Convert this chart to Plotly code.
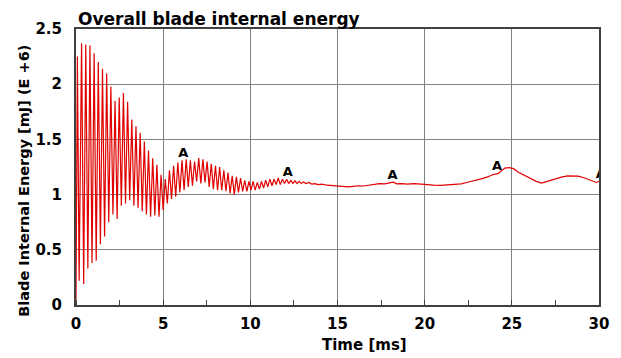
import plotly.graph_objects as go

# Time [ms] and blade internal energy [mJ] (E+6)
t_ms = [0.00, 0.08, 0.18, 0.32, 0.44, 0.56, 0.68, 0.80, 0.92, 1.04, 1.16, 1.28, 1.40, 1.52, 1.64,
        1.76, 1.88, 2.00, 2.12, 2.24, 2.36, 2.48, 2.60, 2.72, 2.84, 2.96, 3.08, 3.20, 3.32, 3.44,
        3.56, 3.68, 3.80, 3.92, 4.04, 4.16, 4.28, 4.40, 4.52, 4.64, 4.76, 4.88, 5.00, 5.12, 5.24,
        5.36, 5.48, 5.60, 5.72, 5.84, 5.96, 6.08, 6.20, 6.32, 6.44, 6.56, 6.68, 6.80, 6.92, 7.04,
        7.16, 7.28, 7.40, 7.52, 7.64, 7.76, 7.88, 8.00, 8.12, 8.24, 8.36, 8.48, 8.60, 8.72, 8.84,
        8.96, 9.08, 9.20, 9.32, 9.44, 9.56, 9.68, 9.80, 9.92, 10.04, 10.16, 10.28, 10.40, 10.52,
        10.64, 10.76, 10.88, 11.00, 11.12, 11.24, 11.36, 11.48, 11.60, 11.72, 11.84, 11.96, 12.08,
        12.20, 12.32, 12.44, 12.56, 12.68, 12.80, 12.92, 13.04, 13.20, 13.36, 13.52, 13.70, 13.90,
        14.10, 14.40, 14.70, 15.00, 15.30, 15.60, 15.90, 16.20, 16.50, 16.80, 17.10, 17.40, 17.70,
        18.00, 18.20, 18.40, 18.70, 19.00, 19.40, 19.80, 20.10, 20.50, 20.90, 21.30, 21.70, 22.10,
        22.40, 22.70, 23.00, 23.30, 23.60, 23.90, 24.20, 24.40, 24.60, 24.85, 25.10, 25.35, 25.60,
        25.85, 26.10, 26.40, 26.70, 27.00, 27.30, 27.60, 27.90, 28.20, 28.50, 28.80, 29.10, 29.40,
        29.70, 29.85, 30.00]
energy = [0.05, 2.25, 0.22, 2.37, 0.19, 2.36, 0.33, 2.35, 0.38, 2.28, 0.40, 2.20, 0.55, 2.14, 0.62,
          2.10, 0.75, 1.98, 0.82, 1.85, 0.78, 1.88, 0.90, 1.92, 0.92, 1.84, 0.95, 1.68, 0.90, 1.62,
          0.88, 1.56, 0.85, 1.48, 0.82, 1.40, 0.80, 1.33, 0.81, 1.27, 0.80, 1.18, 0.86, 1.14, 0.92,
          1.22, 0.96, 1.26, 0.98, 1.29, 1.02, 1.31, 1.04, 1.32, 1.07, 1.31, 1.08, 1.30, 1.12, 1.33,
          1.10, 1.32, 1.11, 1.30, 1.07, 1.28, 1.05, 1.26, 1.04, 1.25, 1.04, 1.22, 1.03, 1.20, 1.01,
          1.17, 1.00, 1.16, 1.02, 1.15, 1.03, 1.13, 1.03, 1.12, 1.04, 1.12, 1.04, 1.11, 1.05,
          1.12, 1.06, 1.13, 1.07, 1.14, 1.08, 1.14, 1.09, 1.15, 1.09, 1.14, 1.10, 1.14,
          1.10, 1.13, 1.10, 1.125, 1.10, 1.12, 1.10, 1.115, 1.10, 1.11, 1.095, 1.10, 1.09,
          1.095, 1.085, 1.08, 1.075, 1.072, 1.07, 1.075, 1.08, 1.078, 1.085, 1.095, 1.10, 1.098,
          1.105, 1.112, 1.098, 1.10, 1.095, 1.10, 1.095, 1.088, 1.085, 1.083, 1.088, 1.092, 1.097,
          1.11, 1.12, 1.13, 1.145, 1.16, 1.18, 1.19, 1.215, 1.24, 1.245, 1.235, 1.205, 1.185,
          1.16, 1.145, 1.12, 1.105, 1.12, 1.135, 1.15, 1.16, 1.17, 1.172, 1.168, 1.155, 1.135,
          1.115, 1.11, 1.12]

label_t = [6.15, 12.15, 18.15, 24.15, 30.1]
label_e = [1.31, 1.14, 1.11, 1.19, 1.12]
label_text = ["A", "A", "A", "A", "A"]

x_ticks = [0, 5, 10, 15, 20, 25, 30]
y_ticks = [0, 0.5, 1, 1.5, 2, 2.5]

FONT = "DejaVu Sans, sans-serif"

fig = go.Figure()
fig.add_trace(go.Scatter(x=t_ms, y=energy, mode="lines",
                         line=dict(color="#e00000", width=1.2), showlegend=False))
fig.add_trace(go.Scatter(x=label_t, y=label_e, mode="text", text=label_text,
                         textposition="top center",
                         textfont=dict(family=FONT, size=13, color="black", weight="bold"),
                         showlegend=False, cliponaxis=True))

# The page body has an 8 px margin, so the figure is 8 px smaller than the window
fig.update_layout(
    width=613, height=350,
    margin=dict(l=68, r=18, t=14, b=53),
    paper_bgcolor="white", plot_bgcolor="white",
    xaxis=dict(range=[0, 30], tickvals=x_ticks, ticktext=[str(v) for v in x_ticks],
               showgrid=True, gridcolor="#808080", gridwidth=1,
               showline=True, linecolor="#404040", linewidth=2, mirror=True,
               ticks="", zeroline=False, ticklabelstandoff=4,
               minor=dict(ticks="inside", ticklen=5, tickcolor="#404040", dtick=2.5, tick0=0,
                          showgrid=False),
               tickfont=dict(family=FONT, size=15, color="black", weight="bold")),
    yaxis=dict(range=[0, 2.5], tickvals=y_ticks, ticktext=["0", "0.5", "1", "1.5", "2", "2.5"],
               showgrid=True, gridcolor="#808080", gridwidth=1,
               showline=True, linecolor="#404040", linewidth=2, mirror=True,
               ticks="", zeroline=False, ticklabelstandoff=9,
               tickfont=dict(family=FONT, size=15, color="black", weight="bold")),
    annotations=[
        dict(text="Overall blade internal energy", xref="paper", yref="paper", x=0, y=1,
             xanchor="left", yanchor="bottom", yshift=-2, showarrow=False,
             font=dict(family=FONT, size=17, color="black", weight="bold")),
        dict(text="Time [ms]", xref="x", yref="paper", x=16.55, y=0, yshift=-40,
             xanchor="center", yanchor="middle", showarrow=False,
             font=dict(family=FONT, size=15, color="black", weight="bold")),
        dict(text="Blade Internal Energy [mJ] (E +6)", xref="paper", yref="paper",
             x=0, xshift=-52, y=0.45, xanchor="center", yanchor="middle", textangle=-90,
             showarrow=False, font=dict(family=FONT, size=14.5, color="black", weight="bold")),
    ],
)

fig.write_html("out.html")
